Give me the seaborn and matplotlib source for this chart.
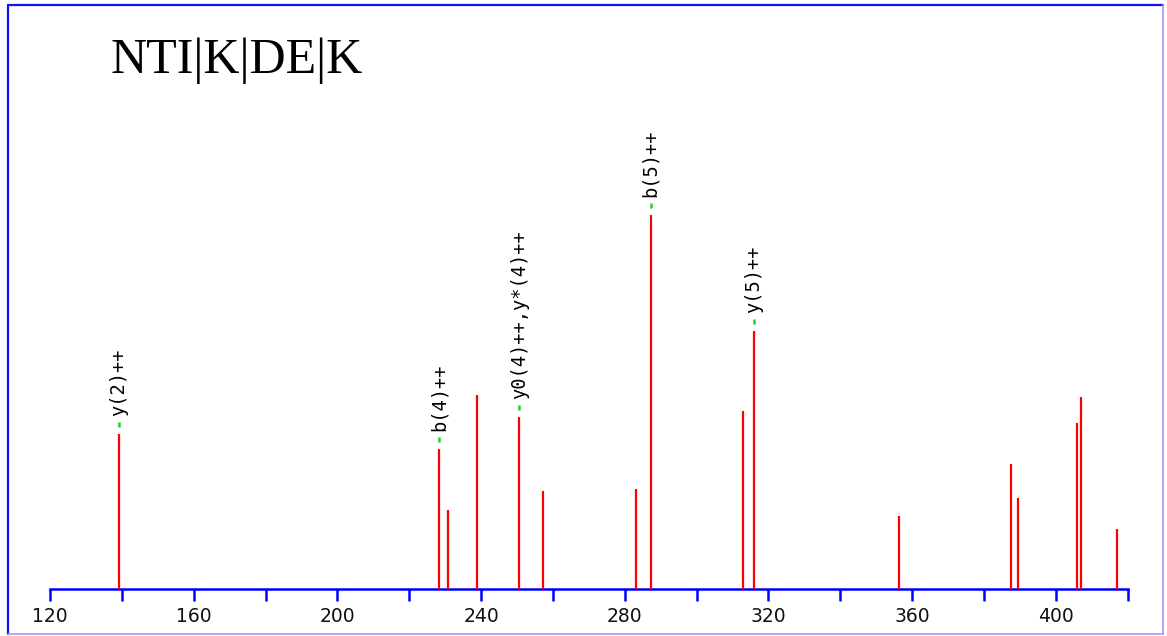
import matplotlib
matplotlib.use("Agg")
import matplotlib.pyplot as plt
from matplotlib.lines import Line2D
import seaborn as sns

# Fragment spectrum of NTI|K|DE|K (m/z vs relative intensity)
mz = [139.2, 228.3, 230.7, 238.9, 250.6, 257.2, 283.1, 287.2,
      313.0, 316.0, 356.4, 387.6, 389.5, 406.0, 407.0, 417.0]
intensity = [41.4, 37.4, 21.0, 52.0, 45.9, 26.1, 26.7, 100.0,
             47.6, 69.0, 19.5, 33.4, 24.3, 44.4, 51.3, 16.0]

# Annotated fragment ions
ion_mz = [139.2, 228.3, 250.6, 287.2, 316.0]
ion_intensity = [41.4, 37.4, 45.9, 100.0, 69.0]
ion_labels = ["y(2)++", "b(4)++", "y0(4)++,y*(4)++", "b(5)++", "y(5)++"]

tick_values = list(range(120, 421, 20))
tick_labels = [str(v) if v % 40 == 0 else "" for v in tick_values]
title = "NTI|K|DE|K"

sns.set_theme(style="white")
plt.rcParams["font.family"] = ["DejaVu Sans"]

W, H = 1167, 636
fig = plt.figure(figsize=(W / 100, H / 100), dpi=100)
fig.patch.set_facecolor("white")

# outer frame: dark blue top/left, lighter blue bottom/right
fig.add_artist(Line2D([8 / W, 8 / W], [1 - 634 / H, 1 - 5 / H], color="#1010ff", lw=1.6))
fig.add_artist(Line2D([8 / W, 1163 / W], [1 - 5 / H, 1 - 5 / H], color="#1010ff", lw=1.6))
fig.add_artist(Line2D([1163 / W, 1163 / W], [1 - 634 / H, 1 - 5 / H], color="#9a9aff", lw=1.2))
fig.add_artist(Line2D([8 / W, 1163 / W], [1 - 634 / H, 1 - 634 / H], color="#9a9aff", lw=1.2))

left_px, right_px = 50, 1127.7
base_px, top_px = 589, 28
ymax = 150
ax = fig.add_axes([left_px / W, 1 - base_px / H,
                   (right_px - left_px) / W, (base_px - top_px) / H])
ax.set_facecolor("none")
ax.set_xlim(120, 420)
ax.set_ylim(0, ymax)

unit_px = (base_px - top_px) / ymax  # pixels per intensity unit
pt_per_px = 72 / 100

# peaks
ax.vlines(mz, 0, intensity, colors="#ff0000", lw=1.6, zorder=3)

# green markers just above annotated peaks
ax.vlines(ion_mz, [y + 7 / unit_px for y in ion_intensity],
          [y + 12 / unit_px for y in ion_intensity],
          colors="#22cc22", lw=1.8, zorder=3)

# rotated ion labels
for x, y, lab in zip(ion_mz, ion_intensity, ion_labels):
    ax.annotate(lab, xy=(x, y), xycoords="data",
                xytext=(0, 18 * pt_per_px), textcoords="offset points",
                rotation=90, ha="center", va="bottom",
                family="DejaVu Sans Mono", fontsize=13.5, color="black")

# axis styling
for s in ["left", "right", "top"]:
    ax.spines[s].set_visible(False)
ax.spines["bottom"].set_color("#0000ff")
ax.spines["bottom"].set_linewidth(1.8)
ax.set_yticks([])
ax.set_xticks(tick_values)
ax.set_xticklabels(tick_labels)
ax.tick_params(axis="x", direction="out", length=12 * pt_per_px, width=1.8,
               color="#0000ff", labelsize=13.5, labelcolor="#111111", pad=4,
               bottom=True)

fig.text(111 / W, 1 - 73 / H, title, family="Liberation Serif", fontsize=36,
         color="black", ha="left", va="baseline")

fig.savefig("out.png", dpi=100, facecolor="white")
